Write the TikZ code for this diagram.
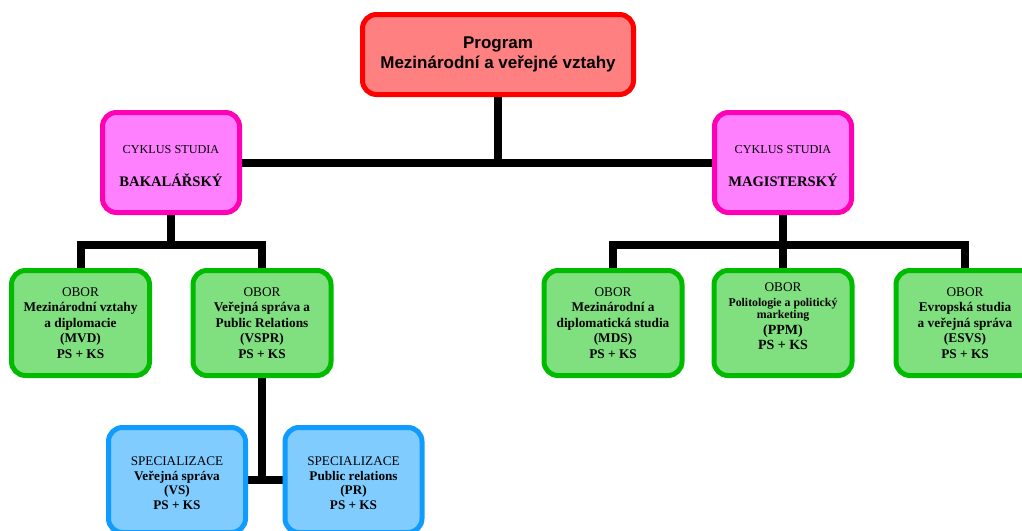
\documentclass[tikz,border=0pt]{standalone}
\usepackage{fontspec}
\setmainfont{Liberation Serif}
\newfontfamily\arialf{Liberation Sans}
\usetikzlibrary{backgrounds}
\definecolor{progfill}{HTML}{FF8080}
\definecolor{progline}{HTML}{FF0000}
\definecolor{cycfill}{HTML}{FF80FF}
\definecolor{cycline}{HTML}{FF00B4}
\definecolor{oborfill}{HTML}{80E080}
\definecolor{oborline}{HTML}{00BB00}
\definecolor{specfill}{HTML}{80CCFF}
\definecolor{specline}{HTML}{109CFF}
\tikzset{
  box/.style={rounded corners=14pt, line width=5pt, align=center, inner sep=0pt},
  progbox/.style={box, draw=progline, fill=progfill, minimum width=271pt, minimum height=80pt,
    font=\arialf\bfseries\fontsize{17}{20.5}\selectfont},
  cycbox/.style={box, draw=cycline, fill=cycfill, minimum width=137pt, minimum height=100pt,
    font=\fontsize{12.2}{14}\selectfont},
  oborbox/.style={box, draw=oborline, fill=oborfill, minimum width=138pt, minimum height=105pt,
    font=\fontsize{13.3}{15.5}\selectfont},
  specbox/.style={box, draw=specline, fill=specfill, minimum width=137pt, minimum height=105pt,
    font=\fontsize{13.2}{14.8}\selectfont},
  conn/.style={line width=8pt, black, line join=miter},
}
\begin{document}
\begin{tikzpicture}[x=1pt,y=1pt]
\useasboundingbox (0,0) rectangle (1022,-530);
\node[progbox] (prog) at (498,-54.5) {Program\\Mezinárodní a veřejné vztahy};
\node[cycbox] (bak) at (171,-162.5) {\rule{0pt}{16pt}CYKLUS STUDIA\\[19pt]{\bfseries\fontsize{14.6}{16}\selectfont BAKALÁŘSKÝ}};
\node[cycbox] (mag) at (783,-162.5) {\rule{0pt}{16pt}CYKLUS STUDIA\\[19pt]{\bfseries\fontsize{14.6}{16}\selectfont MAGISTERSKÝ}};
\node[oborbox] (mvd) at (80.5,-323) {OBOR\\\textbf{Mezinárodní vztahy}\\\textbf{a diplomacie}\\\textbf{(MVD)}\\\textbf{PS + KS}};
\node[oborbox] (vspr) at (262,-323) {OBOR\\\textbf{Veřejná správa a}\\\textbf{Public Relations}\\\textbf{(VSPR)}\\\textbf{PS + KS}};
\node[oborbox] (mds) at (613,-323) {OBOR\\\textbf{Mezinárodní a}\\\textbf{diplomatická studia}\\\textbf{(MDS)}\\\textbf{PS + KS}};
\node[oborbox] (ppm) at (783,-323) {OBOR\\[-0.5pt]{\bfseries\fontsize{11.8}{11}\selectfont Politologie a politický}\\[-3pt]{\bfseries\fontsize{11.8}{11}\selectfont marketing}\\[0pt]{\bfseries\fontsize{14}{15}\selectfont (PPM)}\\{\bfseries\fontsize{14}{15}\selectfont PS + KS\rule[-14pt]{0pt}{14pt}}};
\node[oborbox] (esvs) at (965,-323) {OBOR\\\textbf{Evropská studia}\\\textbf{a veřejná správa}\\\textbf{(ESVS)}\\\textbf{PS + KS}};
\node[specbox] (vs) at (177,-480) {\rule{0pt}{15pt}SPECIALIZACE\\\textbf{Veřejná správa}\\\textbf{(VS)}\\\textbf{PS + KS}};
\node[specbox] (pr) at (353.5,-480) {\rule{0pt}{15pt}SPECIALIZACE\\\textbf{Public relations}\\\textbf{(PR)}\\\textbf{PS + KS}};
\coordinate (bakj) at (171,-245);
\coordinate (magj) at (783,-245);
\begin{scope}[on background layer]
\draw[conn] (prog.south) -- (prog.south |- bak.east);
\draw[conn] (bak.east) -- (mag.west);
\draw[conn] (bak.south) -- (bakj);
\draw[conn] (mvd.north) |- (bakj) -| (vspr.north);
\draw[conn] (mag.south) -- (ppm.north);
\draw[conn] (mds.north) |- (magj) -| (esvs.north);
\draw[conn] (vspr.south) -- (vspr.south |- vs.east);
\draw[conn] (vs.east) -- (pr.west);
\end{scope}
\end{tikzpicture}
\end{document}
